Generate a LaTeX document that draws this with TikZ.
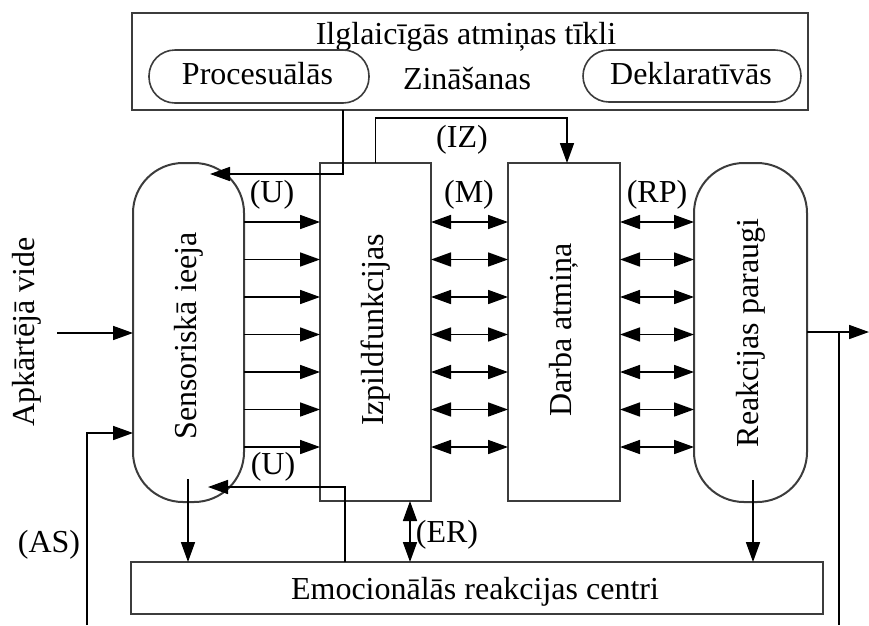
\documentclass[tikz,border=0pt]{standalone}
\usepackage{fontspec}
\setmainfont{Liberation Serif}
\usetikzlibrary{arrows.meta,calc}

\definecolor{edge}{RGB}{60,60,60}

\begin{document}
\begin{tikzpicture}[x=1pt,y=-1pt,
  txt/.style={font=\fontsize{32}{38}\selectfont, inner sep=0pt},
  box/.style={draw=edge, line width=2pt, inner sep=0pt, outer sep=0pt},
  rbox/.style={box, rounded corners=50pt},
  pill/.style={box, line width=1.6pt, rounded corners=26pt},
  wire/.style={line width=1.7pt},
  conn/.style={wire, -{Triangle[length=20pt,width=14pt]}},
  dbl/.style={wire, {Triangle[length=20pt,width=14pt]}-{Triangle[length=20pt,width=14pt]}}
]
\useasboundingbox (0,0) rectangle (869,625);

% long-term memory networks
\node[box, minimum width=676, minimum height=97] (ltm) at (470,61.5) {};
\node[txt, anchor=base] (ltmtitle) at (466,44) {Ilglaicīgās atmiņas tīkli};
\node[pill, minimum width=220, minimum height=53] (proc) at (259,76.5) {};
\node[txt, anchor=base] (proctext) at (257.5,84) {Procesuālās};
\node[txt, anchor=base] (zin) at (467,89) {Zināšanas};
\node[pill, minimum width=218, minimum height=52] (dekl) at (692,76) {};
\node[txt, anchor=base] (dekltext) at (691,84) {Deklaratīvās};

% main processing blocks
\node[rbox, minimum width=111, minimum height=339] (sens) at (188.5,332.5) {};
\node[txt, rotate=90] (senstext) at (188.5,336) {Sensoriskā ieeja};
\node[box, minimum width=111, minimum height=338] (izp) at (375.5,332) {};
\node[txt, rotate=90] (izptext) at (375.5,330) {Izpildfunkcijas};
\node[box, minimum width=112, minimum height=338] (dar) at (564,332) {};
\node[txt, rotate=90] (dartext) at (564,330) {Darba atmiņa};
\node[rbox, minimum width=113, minimum height=339] (rea) at (750.5,332.5) {};
\node[txt, rotate=90] (reatext) at (750.5,333) {Reakcijas paraugi};

% emotional reaction centres
\node[box, minimum width=692, minimum height=52] (emo) at (477,588) {};
\node[txt, anchor=base] (emotext) at (475,599) {Emocionālās reakcijas centri};

% environment
\node[txt, rotate=90] (env) at (27,332) {Apkārtējā vide};

% parallel channels between the blocks
\foreach \y in {222,259.5,297,334.5,372,409.5,447} {
  \coordinate (r) at (0,\y);
  \draw[conn] (sens.east |- r) -- (izp.west |- r);
  \draw[dbl] (izp.east |- r) -- (dar.west |- r);
  \draw[dbl] (dar.east |- r) -- (rea.west |- r);
}

% procedural knowledge back to sensory input
\coordinate (ptip) at (210,174);
\coordinate (pk) at (343,174);
\draw[conn] (ltm.south -| pk) -- (pk) -- (ptip);

% executive functions to working memory
\coordinate (izk) at (567,118);
\draw[conn] (izp.north) |- (izk) -- (dar.north -| izk);

% emotional feedback to sensory input
\coordinate (ubk) at (345,487);
\coordinate (utip) at (208,487);
\draw[conn] (emo.north -| ubk) -- (ubk) -- (utip);

% sensory input and reaction patterns to emotional centres
\coordinate (sd) at (188,479);
\draw[conn] (sd) -- (emo.north -| sd);
\coordinate (rd) at (753,480);
\draw[conn] (rd) -- (emo.north -| rd);

% executive functions <-> emotional centres
\coordinate (er) at (410,0);
\draw[dbl] (izp.south -| er) -- (emo.north -| er);

% input from the environment
\coordinate (envs) at (57,333);
\draw[conn] (envs) -- (sens.west |- envs);

% (AS) loop
\coordinate (asb) at (87,625);
\coordinate (ask) at (87,433);
\draw[conn] (asb) -- (ask) -- (sens.west |- ask);

% output of reaction patterns
\coordinate (out) at (869,332);
\draw[conn] (rea.east |- out) -- (out);
\coordinate (ob) at (839,625);
\draw[wire] (ob |- out) -- (ob);

% labels
\node[txt] (lu1) at (272,195) {(U)};
\node[txt] (lm) at (469,195) {(M)};
\node[txt] (lrp) at (657,195) {(RP)};
\node[txt] (liz) at (462,140) {(IZ)};
\node[txt] (lu2) at (273,467) {(U)};
\node[txt] (ler) at (447,535) {(ER)};
\node[txt] (las) at (49,545) {(AS)};
\end{tikzpicture}
\end{document}
